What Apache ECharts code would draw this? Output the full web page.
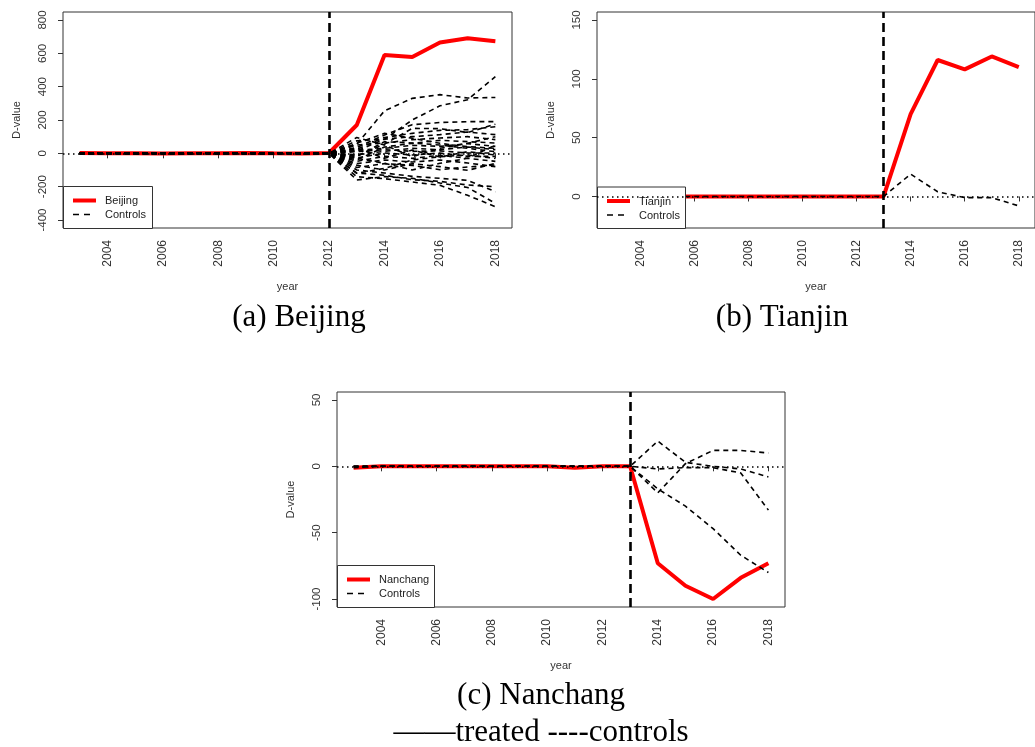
<!DOCTYPE html>
<html><head><meta charset="utf-8">
<script src="https://cdn.jsdelivr.net/npm/echarts@6/dist/echarts.min.js"></script>
<style>html,body{margin:0;padding:0;background:#fff}#c{width:1035px;height:747px}</style>
</head><body><div id="c"></div><script>
// ---------------- data ----------------
const YEARS = [2003,2004,2005,2006,2007,2008,2009,2010,2011,2012,2013,2014,2015,2016,2017,2018];
const X_TICKS = [2004,2006,2008,2010,2012,2014,2016,2018];

// (a) Beijing
const treatYearA = 2012;
const yTicksA = [-400,-200,0,200,400,600,800];
const beijing = [2,0,1,-1,0,1,2,0,-1,2,170,590,578,665,690,673];
const controlsA = [
  [0,-3,2,-1,1,0,-2,1,0,0, 55,255,330,352,332,335],
  [1,2,-1,0,-2,1,0,2,-1,0, 15,85,200,285,322,460],
  [-2,0,1,2,0,-1,1,0,2,0, 35,110,172,185,190,190],
  [2,1,0,-2,1,0,-1,-2,0,0, -15,55,150,148,125,175],
  [0,2,-2,1,0,2,-1,0,1,0, 25,95,120,138,142,160],
  [-1,0,2,0,-2,0,1,1,-1,0, 75,85,100,112,128,112],
  [3,-1,0,1,2,-2,0,-1,0,0, 50,62,82,92,100,82],
  [-2,1,-1,0,1,2,0,1,0,0, -40,38,60,78,70,62],
  [1,0,3,-1,0,-1,2,0,-2,0, 18,30,48,42,58,42],
  [0,-2,0,2,-1,1,0,-1,1,0, -8,12,30,22,38,22],
  [2,0,-1,0,3,0,-2,1,0,0, 10,22,12,15,2,2],
  [-1,2,1,-2,0,1,0,2,-1,0, -28,2,-10,2,-18,-18],
  [0,1,-2,1,-1,0,2,-1,1,0, -48,-18,-30,-12,-30,-48],
  [1,-1,0,0,2,-1,-1,0,2,0, -62,-40,-52,-40,-58,-80],
  [-2,0,1,1,-1,2,0,-2,0,0, -85,-62,-72,-98,-82,-70],
  [0,2,0,-1,1,0,1,0,-1,0, -160,-140,-150,-178,-205,-300],
  [2,-1,1,0,-2,1,0,1,0,0, -140,-152,-172,-192,-252,-320],
  [-1,0,-1,2,0,-2,1,0,1,0, -118,-132,-158,-168,-190,-200],
  [0,1,2,0,-1,0,-2,1,0,0, -100,-118,-138,-150,-162,-230],
  [1,-2,0,1,0,1,0,-1,-2,0, -72,-100,-62,-80,-102,-60],
  [-1,1,0,-1,2,0,1,0,1,0, 32,-30,20,-22,10,-10],
  [2,0,-2,0,1,-1,0,2,0,0, -20,70,62,50,30,10],
  [0,-1,1,2,0,1,-1,0,-1,0, 95,50,-20,30,60,100],
  [-2,1,0,-1,1,0,2,-1,0,0, -30,-60,-100,-60,-30,50],
  [1,0,-1,1,-1,2,0,0,1,0, 60,120,90,60,40,30],
  [0,1,0,-1,0,1,-1,0,0,0, -120,-90,-40,-20,-10,-30]
];

// (b) Tianjin
const treatYearB = 2013;
const yTicksB = [0,50,100,150];
const tianjin = [0,0,0,0,0,0,0,0,0,0,0,70,116,108,119,110];
const controlsB = [
  [0,0,0,0,0,0,0,0,0,0,0,19,4,-1,-1,-8]
];

// (c) Nanchang
const treatYearC = 2013;
const yTicksC = [-100,-50,0,50];
const nanchang = [-1,0,0,0,0,0,0,0,-1,0,0,-73,-90,-100,-84,-73];
const controlsC = [
  [0,0,0,0,0,0,0,0,0,0,0,19,3,0,-2,-8],
  [-1,0,0,0,0,0,0,0,0,0,0,-20,2,12,12,10],
  [0,0,0,0,0,0,0,0,0,0,0,-17,-30,-47,-67,-80],
  [0,0,0,0,0,0,0,0,0,0,0,-2,-1,-1,-5,-33]
];

const captions = ['(a) Beijing', '(b) Tianjin', '(c) Nanchang', '\u2014\u2014treated ----controls'];
const legendNames = [['Beijing','Controls'],['Tianjin','Controls'],['Nanchang','Controls']];

// ---------------- chart ----------------
const SANS = 'Liberation Sans, Arial, sans-serif';
const SERIF = 'Liberation Serif, Times New Roman, serif';
const pairs = vals => YEARS.map((y, i) => [y, vals[i]]);
const plain = v => String(v);

const panels = [
  {grid:{left:63, top:12, width:449, height:216}, ymin:-448, ymax:848, yt:yTicksA, treat:treatYearA, red:beijing, ctrl:controlsA,
   leg:{x:63, y:186, w:89, h:42}},
  {grid:{left:597, top:12, width:448, height:216}, ymin:-26.8, ymax:156.8, yt:yTicksB, treat:treatYearB, red:tianjin, ctrl:controlsB,
   leg:{x:597, y:186.5, w:88, h:41.5}},
  {grid:{left:337, top:392, width:448, height:215}, ymin:-106, ymax:56, yt:yTicksC, treat:treatYearC, red:nanchang, ctrl:controlsC,
   leg:{x:337, y:565, w:97, h:42}}
];

const grids = [], xAxes = [], yAxes = [], series = [], graphics = [];
panels.forEach((p, k) => {
  grids.push(Object.assign({show:true, borderColor:'#333', borderWidth:1, backgroundColor:'transparent'}, p.grid));
  xAxes.push({
    type:'value', gridIndex:k, min:2002.4, max:2018.6,
    name:'year', nameLocation:'middle', nameGap:53,
    nameTextStyle:{fontFamily:SANS, fontSize:11, color:'#333'},
    axisLine:{show:false}, splitLine:{show:false},
    axisTick:{show:true, length:5, lineStyle:{color:'#333'}, customValues:X_TICKS},
    axisLabel:{rotate:90, margin:12, fontFamily:SANS, fontSize:12, color:'#333', customValues:X_TICKS, formatter:plain}
  });
  yAxes.push({
    type:'value', gridIndex:k, min:p.ymin, max:p.ymax,
    name:'D-value', nameLocation:'middle', nameRotate:90, nameGap:41,
    nameTextStyle:{fontFamily:SANS, fontSize:11, color:'#333'},
    axisLine:{show:false}, splitLine:{show:false},
    axisTick:{show:true, length:5, lineStyle:{color:'#333'}, customValues:p.yt},
    axisLabel:{rotate:90, margin:14, fontFamily:SANS, fontSize:11.5, color:'#333', customValues:p.yt, formatter:plain}
  });
  // treated (red)
  series.push({
    type:'line', xAxisIndex:k, yAxisIndex:k, data:pairs(p.red), showSymbol:false, silent:true,
    lineStyle:{color:'#ff0000', width:4}, z:3, animation:false
  });
  // controls
  p.ctrl.forEach(c => series.push({
    type:'line', xAxisIndex:k, yAxisIndex:k, data:pairs(c), showSymbol:false, silent:true,
    lineStyle:{color:'#000', width:1.6, type:[5,4]}, z:4, animation:false
  }));
  // treatment year (vertical) and zero line
  series.push({
    type:'line', xAxisIndex:k, yAxisIndex:k, data:[], silent:true, z:20, animation:false,
    markLine:{silent:true, symbol:'none', z:20, animation:false, label:{show:false},
      data:[
        {xAxis:p.treat, lineStyle:{color:'#000', width:2.6, type:[9,5]}},
        {yAxis:0, lineStyle:{color:'#000', width:1.5, type:[1.5,3.5]}}
      ]}
  });
  // legend box
  const L = p.leg;
  graphics.push({type:'rect', z:10, shape:{x:L.x+0.5, y:L.y+0.5, width:L.w, height:L.h},
    style:{fill:'#fff', stroke:'#333', lineWidth:1}});
  graphics.push({type:'line', z:11, shape:{x1:L.x+10, y1:L.y+14.5, x2:L.x+33, y2:L.y+14.5},
    style:{stroke:'#ff0000', lineWidth:4}});
  graphics.push({type:'line', z:11, shape:{x1:L.x+10, y1:L.y+28.5, x2:L.x+32, y2:L.y+28.5},
    style:{stroke:'#000', lineWidth:1.6, lineDash:[6,5]}});
  graphics.push({type:'text', z:11, style:{x:L.x+42, y:L.y+15, text:legendNames[k][0], font:'11px '+SANS, fill:'#222', textVerticalAlign:'middle'}});
  graphics.push({type:'text', z:11, style:{x:L.x+42, y:L.y+29, text:legendNames[k][1], font:'11px '+SANS, fill:'#222', textVerticalAlign:'middle'}});
});

// captions
const capPos = [[299,318],[782,318],[541,696],[541,733]];
captions.forEach((t, i) => graphics.push({type:'text', z:11,
  style:{x:capPos[i][0], y:capPos[i][1], text:t, font:'31px '+SERIF, fill:'#000', textAlign:'center', textVerticalAlign:'middle'}}));

const chart = echarts.init(document.getElementById('c'), null, {renderer:'canvas'});
chart.setOption({
  animation:false, backgroundColor:'#fff',
  grid:grids, xAxis:xAxes, yAxis:yAxes, series:series, graphic:graphics
});
</script></body></html>
